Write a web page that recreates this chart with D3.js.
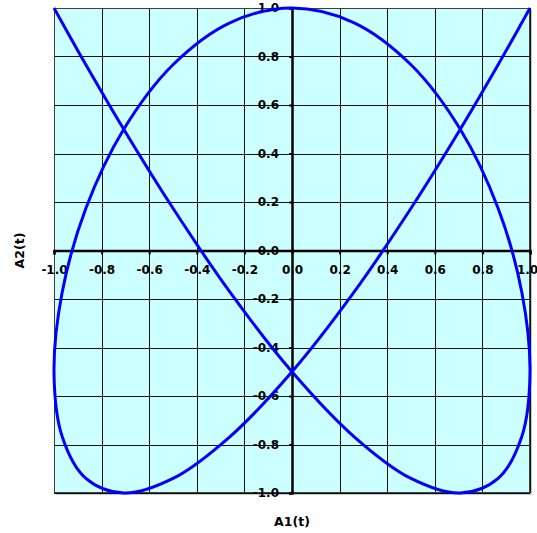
<!DOCTYPE html>
<html>
<head>
<meta charset="utf-8">
<script src="https://cdn.jsdelivr.net/npm/d3@7"></script>
<style>
  body { margin: 0; background: #fff; }
  text { font-family: "DejaVu Sans", Arial, sans-serif; font-weight: bold; }
</style>
</head>
<body>
<div id="chart"></div>
<script>
// Valores (A1 en horizontal, A2 en vertical)
const a1 = [-1, -0.966, -0.866, -0.707, -0.5, -0.259, 0, 0.259, 0.5, 0.707, 0.866, 0.966, 1,
    0.966, 0.866, 0.707, 0.5, 0.259, 0, -0.259, -0.5, -0.707, -0.866, -0.966, -1,
    -0.966, -0.866, -0.707, -0.5, -0.259, 0, 0.259, 0.5, 0.707, 0.866, 0.966, 1];
const a2 = [1, 0.94, 0.766, 0.5, 0.174, -0.174, -0.5, -0.766, -0.94, -1, -0.94, -0.766, -0.5,
    -0.174, 0.174, 0.5, 0.766, 0.94, 1, 0.94, 0.766, 0.5, 0.174, -0.174, -0.5,
    -0.766, -0.94, -1, -0.94, -0.766, -0.5, -0.174, 0.174, 0.5, 0.766, 0.94, 1];
const ticks = [-1, -0.8, -0.6, -0.4, -0.2, 0, 0.2, 0.4, 0.6, 0.8, 1];

const COLOR_BG = '#CCFFFF',
COLOR_LINE = '#0000FF',
FONT = '"DejaVu Sans", Arial, sans-serif';

let margin = {top: 8, right: 7, bottom: 40, left: 54},
    width = 537 - margin.left - margin.right,
    height = 533 - margin.top - margin.bottom;

let svg = d3.select('#chart')
    .append('svg')
      .attr('width', width + margin.left + margin.right)
      .attr('height', height + margin.top + margin.bottom)
    .append('g')
      .attr('transform', 'translate(' + margin.left + ',' + margin.top + ')');

let x = d3.scaleLinear().domain([-1, 1]).range([0, width]);
let y = d3.scaleLinear().domain([-1, 1]).range([height, 0]);

//Fondo y sombra
svg.append('rect')
    .attr('x', 2).attr('y', 2)
    .attr('width', width).attr('height', height)
    .attr('fill', '#c8c8c8');
svg.append('rect')
    .attr('width', width).attr('height', height)
    .attr('fill', COLOR_BG);

//Rejilla
svg.append('g')
    .selectAll('line')
    .data(ticks)
    .enter()
    .append('line')
    .attr('x1', d => Math.round(x(d)) + 0.5).attr('x2', d => Math.round(x(d)) + 0.5)
    .attr('y1', 0).attr('y2', height)
    .attr('stroke', '#111').attr('stroke-width', 1);
svg.append('g')
    .selectAll('line')
    .data(ticks)
    .enter()
    .append('line')
    .attr('y1', d => Math.round(y(d)) + 0.5).attr('y2', d => Math.round(y(d)) + 0.5)
    .attr('x1', 0).attr('x2', width)
    .attr('stroke', '#111').attr('stroke-width', 1);

svg.append('rect')
    .attr('x', 0.5).attr('y', 0.5)
    .attr('width', width - 1).attr('height', height - 1)
    .attr('fill', 'none')
    .attr('stroke', '#404040');

//Ejes en el cero
let styleAxis = function(g) {
    g.select('.domain').attr('stroke', '#000').attr('stroke-width', 2.5);
    g.selectAll('.tick line').attr('stroke', '#000').attr('stroke-width', 2);
    g.selectAll('text').attr('font-size', 12).attr('fill', '#000')
        .attr('font-family', FONT).attr('font-weight', 'bold');
};
let xAxis = function(g) {
    g.call(d3.axisBottom(x).tickValues(ticks).tickSize(4).tickPadding(11)
        .tickFormat(d => d3.format('.1f')(d).replace('−', '-')));
    styleAxis(g);
    //La última etiqueta no cabe centrada en el borde
    g.selectAll('.tick text').filter(d => d === 1).attr('dx', -3);
};
let yAxis = function(g) {
    g.call(d3.axisLeft(y).tickValues(ticks).tickSize(3).tickPadding(10)
        .tickFormat(d => d3.format('.1f')(d).replace('−', '-')));
    styleAxis(g);
};

svg.append('g')
    .attr('transform', 'translate(0,' + y(0) + ')')
    .call(xAxis);
svg.append('g')
    .attr('transform', 'translate(' + x(0) + ',0)')
    .call(yAxis);

//Curva
let points = a1.map((d, i) => [d, a2[i]]);
svg.append('path')
    .datum(points)
    .attr('fill', 'none')
    .attr('stroke', COLOR_LINE)
    .attr('stroke-width', 3)
    .attr('d', d3.line().x(d => x(d[0])).y(d => y(d[1])).curve(d3.curveCatmullRom.alpha(0.5)));

//Títulos
svg.append('text')
    .attr('x', x(0)).attr('y', height + 33)
    .attr('text-anchor', 'middle')
    .attr('font-size', 12.5)
    .text('A1(t)');
svg.append('text')
    .attr('transform', 'translate(' + (-30) + ',' + y(0) + ')rotate(-90)')
    .attr('text-anchor', 'middle')
    .attr('font-size', 12.5)
    .text('A2(t)');
</script>
</body>
</html>
